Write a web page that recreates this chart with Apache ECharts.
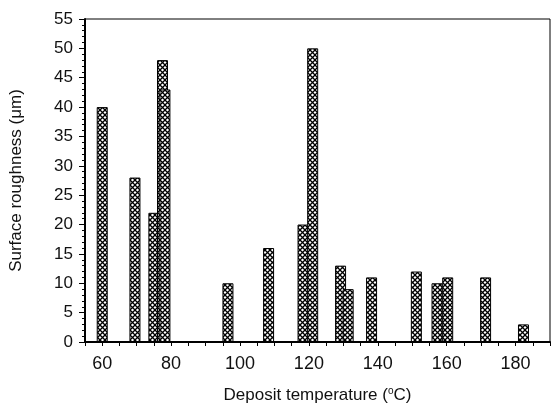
<!DOCTYPE html>
<html>
<head>
<meta charset="utf-8">
<script src="https://cdn.jsdelivr.net/npm/echarts@6/dist/echarts.min.js"></script>
<style>
  html, body { margin: 0; padding: 0; background: #fff; }
  #chart { width: 551px; height: 411px; }
</style>
</head>
<body>
<div id="chart"></div>
<script>
// deposit temperature (°C) of each sample
var temps = [60, 69.5, 75, 77.5, 78.2, 96.5, 108.3, 118.3, 121.1, 129.2, 131.4, 138.2, 151.2, 157.2, 160.3, 171.3, 182.3];
// surface roughness (µm)
var roughness = [40, 28, 22, 48, 43, 10, 16, 20, 50, 13, 9, 11, 12, 10, 11, 11, 3];
var xTickLabels = [60, 80, 100, 120, 140, 160, 180];
var yTickLabels = [0, 5, 10, 15, 20, 25, 30, 35, 40, 45, 50, 55];

// crosshatch fill like the printed figure
function hatch() {
    var c = document.createElement('canvas');
    c.width = 5; c.height = 5;
    var g = c.getContext('2d');
    g.fillStyle = '#fff';
    g.fillRect(0, 0, 5, 5);
    g.strokeStyle = '#000';
    g.lineWidth = 1.3;
    g.beginPath();
    g.moveTo(0, 0); g.lineTo(5, 5);
    g.moveTo(5, 0); g.lineTo(0, 5);
    g.stroke();
    return c;
}

var xTicks = [];
for (var t = 55; t <= 190; t += 5) xTicks.push(t);

var points = temps.map(function (t, i) { return [t, roughness[i]]; });

var myChart = echarts.init(document.getElementById('chart'));
var option = {
    animation: false,
    textStyle: { fontFamily: 'Liberation Sans, Arial, sans-serif' },
    grid: {
        left: 84, right: 1, top: 19, bottom: 69,
        show: true, borderColor: '#000', borderWidth: 1
    },
    xAxis: {
        type: 'value',
        min: 55, max: 190,
        name: 'Deposit temperature ({s|o}C)',
        nameLocation: 'middle',
        nameGap: 44,
        nameTextStyle: {
            fontSize: 17, color: '#111',
            rich: { s: { fontSize: 10, verticalAlign: 'top', padding: [0, 0, 8, 0], color: '#111' } }
        },
        axisLine: { lineStyle: { color: '#000', width: 2 } },
        axisTick: { customValues: xTicks, length: 4, lineStyle: { color: '#000' } },
        axisLabel: { customValues: xTickLabels, fontSize: 18, color: '#111', margin: 13 },
        splitLine: { show: false }
    },
    yAxis: {
        type: 'value',
        min: 0, max: 55, interval: 5,
        name: 'Surface roughness (\u03bcm)',
        nameLocation: 'middle',
        nameGap: 60,
        nameTextStyle: { fontSize: 17, color: '#111' },
        axisLine: { lineStyle: { color: '#000', width: 2 } },
        axisTick: { length: 6, lineStyle: { color: '#000' } },
        minorTick: { show: true, splitNumber: 5, length: 3, lineStyle: { color: '#000' } },
        axisLabel: {
            fontSize: 17, color: '#111', margin: 12,
            formatter: function (v) { return yTickLabels.indexOf(v) >= 0 ? String(v) : ''; }
        },
        splitLine: { show: false }
    },
    series: [{
        type: 'bar',
        barWidth: 11,
        data: points,
        itemStyle: {
            color: { image: hatch(), repeat: 'repeat' },
            borderColor: '#000',
            borderWidth: 1
        }
    }]
};
myChart.setOption(option);
</script>
</body>
</html>
